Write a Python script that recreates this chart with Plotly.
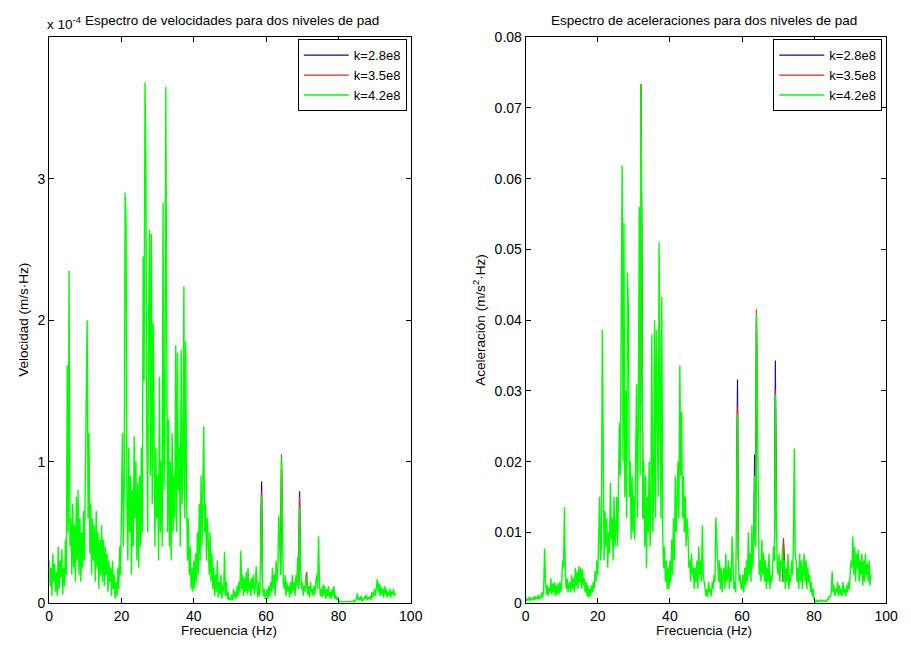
import plotly.graph_objects as go

# frequency grid (Hz), 0.25 Hz steps, 0 .. 95.75
freq = [i * 0.25 for i in range(384)]

# Velocity spectrum, k=4.2e8 (units of 1e-4 m/s·Hz), rows of 5 Hz
vel_green = [
    0.30, 0.12, 0.25, 0.05, 0.35, 0.15, 0.28, 0.08, 0.22, 0.05, 0.40, 0.10, 0.30, 0.18, 0.38, 0.06, 0.25, 0.12, 0.45, 0.20,
    1.68, 0.50, 2.35, 0.40, 0.60, 0.20, 0.70, 0.25, 0.55, 0.15, 0.75, 0.30, 0.80, 0.20, 0.60, 0.15, 0.50, 0.25, 0.65, 0.30,
    0.90, 1.50, 2.00, 0.60, 1.20, 0.35, 0.70, 0.20, 0.60, 0.30, 0.55, 0.15, 0.65, 0.25, 0.50, 0.10, 0.45, 0.20, 0.55, 0.15,
    0.45, 0.12, 0.40, 0.20, 0.35, 0.08, 0.30, 0.15, 0.25, 0.05, 0.30, 0.10, 0.20, 0.03, 0.15, 0.05, 0.25, 0.10, 0.40, 0.20,
    0.60, 1.20, 0.40, 0.80, 2.90, 2.70, 0.70, 0.30, 1.10, 0.50, 0.90, 0.20, 0.80, 0.40, 1.18, 0.60, 1.00, 0.30, 0.85, 0.25,
    0.90, 0.40, 1.10, 0.50, 2.45, 1.57, 3.68, 3.14, 1.20, 0.50, 2.00, 2.64, 0.90, 2.61, 0.70, 1.98, 1.20, 0.40, 1.10, 0.60,
    0.90, 0.30, 1.60, 0.50, 1.00, 0.40, 2.83, 0.80, 1.20, 3.65, 1.98, 0.50, 1.30, 0.40, 1.00, 0.30, 1.20, 0.50, 0.90, 0.60,
    1.82, 0.50, 1.77, 0.80, 1.10, 0.40, 1.79, 0.70, 1.00, 2.24, 0.60, 1.85, 0.80, 0.30, 0.60, 0.20, 0.40, 0.10, 0.25, 0.08,
    0.30, 0.10, 0.35, 0.15, 0.50, 0.20, 0.70, 0.30, 0.90, 0.40, 0.80, 1.25, 0.50, 0.70, 0.30, 0.60, 0.45, 0.20, 0.50, 0.15,
    0.35, 0.10, 0.25, 0.05, 0.20, 0.08, 0.30, 0.04, 0.15, 0.06, 0.20, 0.03, 0.12, 0.08, 0.36, 0.05, 0.15, 0.03, 0.08, 0.02,
    0.03, 0.02, 0.06, 0.02, 0.10, 0.04, 0.08, 0.03, 0.12, 0.05, 0.15, 0.08, 0.37, 0.10, 0.20, 0.05, 0.18, 0.08, 0.22, 0.06,
    0.25, 0.08, 0.15, 0.05, 0.18, 0.10, 0.20, 0.06, 0.12, 0.26, 0.10, 0.04, 0.15, 0.05, 0.40, 0.755, 0.15, 0.05, 0.10, 0.03,
    0.05, 0.10, 0.03, 0.12, 0.05, 0.15, 0.08, 0.25, 0.10, 0.20, 0.05, 0.30, 0.15, 0.25, 0.62, 0.40, 0.20, 1.03, 0.50, 0.15,
    0.10, 0.20, 0.05, 0.15, 0.08, 0.12, 0.04, 0.15, 0.06, 0.20, 0.08, 0.15, 0.05, 0.20, 0.12, 0.33, 0.10, 0.675, 0.30, 0.10,
    0.15, 0.05, 0.12, 0.08, 0.20, 0.15, 0.06, 0.12, 0.04, 0.15, 0.08, 0.10, 0.05, 0.12, 0.06, 0.15, 0.20, 0.10, 0.47, 0.15,
    0.05, 0.10, 0.04, 0.13, 0.06, 0.12, 0.03, 0.10, 0.05, 0.12, 0.04, 0.08, 0.03, 0.10, 0.05, 0.12, 0.03, 0.06, 0.02, 0.04,
    0.02, 0.01, 0.01, 0.01, 0.01, 0.01, 0.01, 0.01, 0.01, 0.01, 0.01, 0.01, 0.01, 0.01, 0.01, 0.01, 0.01, 0.02, 0.01, 0.02,
    0.03, 0.07, 0.02, 0.04, 0.02, 0.05, 0.01, 0.03, 0.02, 0.05, 0.03, 0.06, 0.02, 0.04, 0.03, 0.05, 0.02, 0.08, 0.04, 0.06,
    0.10, 0.05, 0.12, 0.17, 0.08, 0.14, 0.05, 0.12, 0.06, 0.10, 0.04, 0.12, 0.06, 0.10, 0.04, 0.08, 0.05, 0.10, 0.04, 0.08,
    0.06, 0.10, 0.05, 0.07,
]

# Velocity, k=2.8e8 and k=3.5e8 where they show above the green curve
vel_blue_f = [58.5, 58.75, 59, None, 64, 64.25, 64.5, None, 69, 69.25, 69.5]
vel_blue = [0.40, 0.86, 0.15, None, 0.20, 0.95, 0.50, None, 0.12, 0.79, 0.30]
vel_red_f = [58.5, 58.75, 59, None, 64, 64.25, 64.5, None, 69, 69.25, 69.5, None, 71, 71.25, 71.5]
vel_red = [0.40, 0.79, 0.15, None, 0.20, 1.05, 0.65, None, 0.12, 0.75, 0.30, None, 0.15, 0.22, 0.06]

# Acceleration spectrum, k=4.2e8 (m/s^2·Hz), rows of 5 Hz
acc_green = [
    0.0008, 0.0003, 0.0006, 0.0004, 0.0009, 0.0003, 0.0007, 0.0005, 0.0008, 0.0004, 0.0010, 0.0005, 0.0009, 0.0006, 0.0012, 0.0005, 0.0010, 0.0007, 0.0015, 0.0008,
    0.0020, 0.0077, 0.0030, 0.0012, 0.0025, 0.0010, 0.0022, 0.0015, 0.0035, 0.0012, 0.0028, 0.0015, 0.0030, 0.0010, 0.0025, 0.0013, 0.0028, 0.0012, 0.0030, 0.0015,
    0.0030, 0.0060, 0.0050, 0.0135, 0.0040, 0.0020, 0.0035, 0.0015, 0.0025, 0.0030, 0.0015, 0.0040, 0.0020, 0.0035, 0.0015, 0.0050, 0.0025, 0.0045, 0.0020, 0.0052,
    0.0030, 0.0050, 0.0020, 0.0048, 0.0025, 0.0035, 0.0015, 0.0030, 0.0010, 0.0025, 0.0008, 0.0020, 0.0010, 0.0025, 0.0015, 0.0030, 0.0020, 0.0045, 0.0030, 0.0060,
    0.0040, 0.0090, 0.0150, 0.0060, 0.0080, 0.0386, 0.0170, 0.0060, 0.0130, 0.0080, 0.0120, 0.0050, 0.0100, 0.0070, 0.0170, 0.0090, 0.0120, 0.0060, 0.0150, 0.0080,
    0.0100, 0.0150, 0.0080, 0.0200, 0.0255, 0.0180, 0.0400, 0.0619, 0.0200, 0.0538, 0.0150, 0.0300, 0.0120, 0.0467, 0.0410, 0.0150, 0.0200, 0.0090, 0.0180, 0.0100,
    0.0150, 0.0090, 0.0200, 0.0310, 0.0120, 0.0250, 0.0560, 0.0180, 0.0734, 0.0380, 0.0120, 0.0200, 0.0080, 0.0180, 0.0050, 0.0150, 0.0100, 0.0200, 0.0080, 0.0160,
    0.0380, 0.0100, 0.0150, 0.0400, 0.0120, 0.0386, 0.0200, 0.0150, 0.0510, 0.0180, 0.0120, 0.0433, 0.0100, 0.0050, 0.0080, 0.0030, 0.0060, 0.0020, 0.0050, 0.0020,
    0.0060, 0.0030, 0.0090, 0.0040, 0.0120, 0.0060, 0.0180, 0.0100, 0.0150, 0.0200, 0.0120, 0.0336, 0.0180, 0.0270, 0.0120, 0.0180, 0.0100, 0.0150, 0.0080, 0.0120,
    0.0100, 0.0050, 0.0060, 0.0030, 0.0070, 0.0040, 0.0050, 0.0020, 0.0050, 0.0030, 0.0060, 0.0020, 0.0080, 0.0040, 0.0060, 0.0030, 0.0110, 0.0040, 0.0030, 0.0015,
    0.0010, 0.0020, 0.0008, 0.0030, 0.0015, 0.0020, 0.0010, 0.0030, 0.0020, 0.0040, 0.0030, 0.0121, 0.0089, 0.0040, 0.0030, 0.0060, 0.0020, 0.0050, 0.0015, 0.0040,
    0.0050, 0.0020, 0.0070, 0.0030, 0.0040, 0.0060, 0.0020, 0.0050, 0.0030, 0.0094, 0.0040, 0.0020, 0.0030, 0.0015, 0.0150, 0.0266, 0.0060, 0.0030, 0.0040, 0.0020,
    0.0020, 0.0040, 0.0015, 0.0050, 0.0025, 0.0060, 0.0030, 0.0100, 0.0040, 0.0070, 0.0030, 0.0110, 0.0050, 0.0090, 0.0180, 0.0080, 0.0410, 0.0264, 0.0100, 0.0040,
    0.0060, 0.0030, 0.0090, 0.0040, 0.0070, 0.0030, 0.0060, 0.0020, 0.0050, 0.0030, 0.0070, 0.0020, 0.0040, 0.0030, 0.0050, 0.0080, 0.0060, 0.0295, 0.0137, 0.0050,
    0.0040, 0.0070, 0.0030, 0.0060, 0.0050, 0.0080, 0.0030, 0.0060, 0.0020, 0.0050, 0.0030, 0.0070, 0.0020, 0.0040, 0.0030, 0.0060, 0.0040, 0.0080, 0.0218, 0.0070,
    0.0060, 0.0030, 0.0050, 0.0020, 0.0070, 0.0030, 0.0060, 0.0020, 0.0050, 0.0070, 0.0030, 0.0060, 0.0020, 0.0050, 0.0030, 0.0040, 0.0015, 0.0030, 0.0010, 0.0020,
    0.0005, 0.0003, 0.0002, 0.0004, 0.0002, 0.0003, 0.0002, 0.0004, 0.0003, 0.0002, 0.0004, 0.0003, 0.0002, 0.0004, 0.0003, 0.0006, 0.0005, 0.0010, 0.0008, 0.0015,
    0.0045, 0.0015, 0.0025, 0.0010, 0.0020, 0.0015, 0.0030, 0.0010, 0.0025, 0.0012, 0.0020, 0.0010, 0.0030, 0.0015, 0.0020, 0.0010, 0.0025, 0.0015, 0.0030, 0.0020,
    0.0040, 0.0060, 0.0050, 0.0094, 0.0040, 0.0080, 0.0030, 0.0070, 0.0050, 0.0075, 0.0030, 0.0060, 0.0040, 0.0070, 0.0025, 0.0060, 0.0030, 0.0070, 0.0040, 0.0055,
    0.0030, 0.0060, 0.0025, 0.0040,
]

acc_blue_f = [32, 32.25, 32.5, None, 58.5, 58.75, 59, None, 63.25, 63.5, 63.75, 64, 64.25, None, 69, 69.25, 69.5, None, 71.25, 71.5, 71.75]
acc_blue = [0.0734, 0.0400, 0.0120, None, 0.0150, 0.0316, 0.0060, None, 0.0090, 0.0210, 0.0080, 0.0400, 0.0250, None, 0.0060, 0.0343, 0.0137, None, 0.0030, 0.0085, 0.0060]
acc_red_f = [32, 32.25, 32.5, None, 58.5, 58.75, 59, None, 63.75, 64, 64.25, None, 69, 69.25, 69.5, None, 71.25, 71.5, 71.75]
acc_red = [0.0734, 0.0390, 0.0120, None, 0.0150, 0.0278, 0.0060, None, 0.0080, 0.0415, 0.0268, None, 0.0060, 0.0302, 0.0137, None, 0.0030, 0.0092, 0.0060]

names = ["k=2.8e8", "k=3.5e8", "k=4.2e8"]
colors = ["#10109a", "#e82020", "#00ff00"]
widths = [1.2, 1.2, 1.4]

FONT = "Liberation Sans, Arial, sans-serif"
FS = 13.5

fig = go.Figure()

series = [
    (vel_blue_f, vel_blue, 0, "x", "y", "legend"),
    (vel_red_f, vel_red, 1, "x", "y", "legend"),
    (freq, vel_green, 2, "x", "y", "legend"),
    (acc_blue_f, acc_blue, 0, "x2", "y2", "legend2"),
    (acc_red_f, acc_red, 1, "x2", "y2", "legend2"),
    (freq, acc_green, 2, "x2", "y2", "legend2"),
]
for xs, ys, ci, xa, ya, lg in series:
    fig.add_trace(go.Scatter(x=xs, y=ys, mode="lines", name=names[ci],
                             line=dict(color=colors[ci], width=widths[ci]),
                             xaxis=xa, yaxis=ya, legend=lg))

W, H = 911, 653
def px(x):
    return x / W
def py(y):
    return (H - y) / H

axis_common = dict(showline=True, linecolor="black", linewidth=1, mirror="ticks",
                   ticks="inside", ticklen=5, tickcolor="black", showgrid=False, zeroline=False,
                   tickfont=dict(family=FONT, size=14, color="black"))

xticks = [0, 20, 40, 60, 80, 100]
fig.update_layout(
    width=W, height=H,
    margin=dict(l=0, r=0, t=0, b=0),
    paper_bgcolor="white", plot_bgcolor="white",
    font=dict(family=FONT, size=FS, color="black"),
    xaxis=dict(domain=[px(46), px(414)], range=[0, 100], tickvals=xticks, anchor="y", **axis_common),
    yaxis=dict(domain=[py(610), py(30)], range=[0, 4], tickvals=[0, 1, 2, 3], anchor="x", **axis_common),
    xaxis2=dict(domain=[px(531), px(898)], range=[0, 100], tickvals=xticks, anchor="y2", **axis_common),
    yaxis2=dict(domain=[py(610), py(30)], range=[0, 0.08],
                tickvals=[0, 0.01, 0.02, 0.03, 0.04, 0.05, 0.06, 0.07, 0.08],
                ticktext=["0", "0.01", "0.02", "0.03", "0.04", "0.05", "0.06", "0.07", "0.08"],
                anchor="x2", **axis_common),
    legend=dict(x=px(410), y=py(32), xanchor="right", yanchor="top", bgcolor="white",
                bordercolor="black", borderwidth=1, itemwidth=45, tracegroupgap=0,
                font=dict(family=FONT, size=13, color="black")),
    legend2=dict(x=px(894), y=py(32), xanchor="right", yanchor="top", bgcolor="white",
                 bordercolor="black", borderwidth=1, itemwidth=45, tracegroupgap=0,
                 font=dict(family=FONT, size=13, color="black")),
)

ann = [
    dict(text="Espectro de velocidades para dos niveles de pad", x=px(232), y=py(13)),
    dict(text="Espectro de aceleraciones para dos niveles de pad", x=px(713), y=py(13)),
    dict(text="x 10<sup>-4</sup>", x=px(42), y=py(15), xanchor="left"),
    dict(text="Frecuencia (Hz)", x=px(229), y=py(638)),
    dict(text="Frecuencia (Hz)", x=px(713), y=py(638)),
    dict(text="Velocidad (m/s·Hz)", x=px(19), y=py(320), textangle=-90),
    dict(text="Aceleración (m/s<sup>2</sup>·Hz)", x=px(484), y=py(320), textangle=-90),
]
for a in ann:
    fig.add_annotation(xref="paper", yref="paper", showarrow=False,
                       xanchor=a.get("xanchor", "center"), yanchor="middle",
                       x=a["x"], y=a["y"], text=a["text"], textangle=a.get("textangle", 0),
                       font=dict(family=FONT, size=FS, color="black"))

fig.write_html("out.html")
